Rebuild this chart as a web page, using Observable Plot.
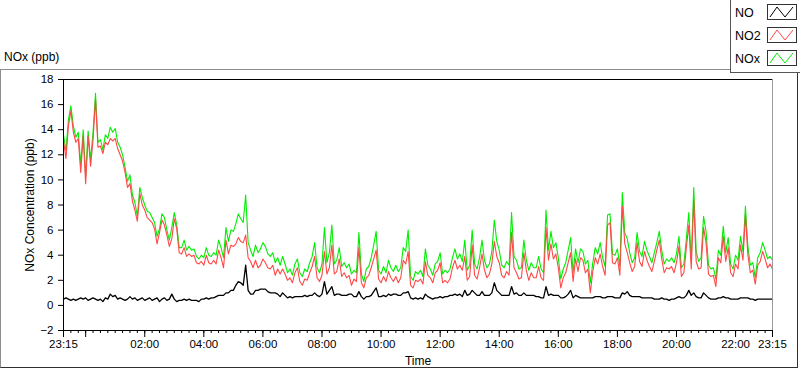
<!DOCTYPE html>
<html><head><meta charset="utf-8">
<script src="https://cdn.jsdelivr.net/npm/d3@7"></script>
<script src="https://cdn.jsdelivr.net/npm/@observablehq/plot@0.6"></script>
<style>
html,body{margin:0;padding:0;background:#fff;}
#wrap{position:relative;width:800px;height:369px;overflow:hidden;font-family:"Liberation Sans",Arial,sans-serif;color:#000;}
#panel{position:absolute;left:0;top:69px;width:796px;height:297px;border-top:1px solid #8c8c8c;border-left:1px solid #8c8c8c;border-right:1px solid #303030;border-bottom:1px solid #303030;}
#title{position:absolute;left:4px;top:50px;font-size:12px;line-height:14px;}
#legend{position:absolute;left:730px;top:0;width:70px;height:73px;background:#fff;border-left:1px solid #555;border-bottom:1px solid #555;box-sizing:border-box;}
.item{position:absolute;left:4px;font-size:12.5px;line-height:14px;}
.sw{position:absolute;left:36px;width:30px;height:16px;box-sizing:border-box;border:1px solid #333;background:#fff;}
#chart{position:absolute;left:0;top:0;}
</style>
</head><body>
<div id="wrap">
  <div id="panel"></div>
  <div id="title">NOx (ppb)</div>
  <div id="chart"></div>
  <div id="legend"></div>
</div>
<script>
// ---- data: readings every 5 minutes from 23:15 to 23:15 next day ----
const stepMinutes = 5;
const seriesNames = ["NO", "NO2", "NOx"];
const seriesColors = ["#000000", "#ff4848", "#00ee00"];
const yTickValues = [-2, 0, 2, 4, 6, 8, 10, 12, 14, 16, 18];

const nox = [
 13.6,12.3,14.8,15.9,14.3,13.4,13.8,11.2,14.0,10.3,13.9,11.6,13.8,16.9,13.0,13.2,12.4,13.6,13.3,14.2,13.8,14.1,13.0,12.6,12.0,11.0,9.9,10.4,8.8,8.2,7.1,9.4,8.6,8.0,7.5,7.4,7.0,6.6,5.5,6.1,7.3,7.0,6.0,5.2,6.2,7.4,6.4,
 4.6,4.6,5.2,4.4,4.7,4.4,4.5,3.9,3.7,4.0,3.8,4.6,4.0,3.9,4.2,4.0,5.2,4.6,3.8,6.2,5.1,6.0,5.9,6.5,7.3,6.9,6.6,8.8,5.0,4.4,3.9,4.8,4.2,4.5,5.0,4.7,4.1,3.9,4.2,3.4,3.8,3.2,3.9,3.3,2.6,2.9,2.4,
 3.3,3.7,2.6,2.3,2.9,2.7,3.4,3.9,5.0,3.0,2.6,3.3,6.2,3.4,4.2,6.4,3.3,3.6,4.6,3.1,3.4,3.0,3.3,2.5,2.8,2.6,5.8,2.5,1.9,2.9,3.1,3.8,4.8,5.9,2.8,2.5,3.1,2.6,3.6,3.0,2.7,3.2,2.7,3.0,4.6,4.3,6.0,2.3,2.0,2.7,
 2.5,2.8,2.3,4.5,3.2,2.9,2.4,3.3,3.5,4.2,2.5,2.8,2.6,2.9,3.8,4.5,3.7,4.1,3.5,5.2,2.8,3.2,6.0,3.3,2.9,3.8,5.2,3.6,3.0,3.3,4.3,6.8,5.1,4.4,3.2,3.0,3.5,3.2,7.4,3.9,3.6,2.9,3.0,5.2,3.6,2.8,3.4,3.0,
 3.0,3.9,2.9,2.6,7.6,4.4,5.9,4.6,5.0,3.8,2.1,2.9,3.4,4.4,5.4,2.6,4.5,3.4,4.5,4.3,3.3,3.6,1.8,3.4,4.6,4.1,5.0,3.8,3.1,7.2,7.3,4.1,4.0,4.5,3.1,9.0,5.8,5.3,4.2,3.4,3.8,5.8,4.3,3.9,5.1,4.4,3.9,3.4,
 4.2,5.0,5.9,4.4,3.3,3.7,3.5,3.8,3.4,4.1,5.5,3.0,3.3,5.3,7.4,3.6,9.4,4.3,3.5,3.8,7.1,5.9,3.2,2.9,3.0,2.1,4.4,4.0,6.3,4.2,5.4,3.3,2.9,4.0,3.6,5.5,4.3,7.9,4.7,3.2,3.4,2.2,3.8,4.2,5.0,4.4,3.7,3.9,3.6
];
const no2 = [
 13.1,11.7,14.3,15.5,13.8,13.0,13.3,10.6,13.5,9.7,13.5,11.1,13.2,16.4,12.6,12.7,12.1,13.0,12.8,13.3,13.1,13.3,12.5,12.0,11.5,10.6,9.4,9.7,8.3,7.6,6.7,8.9,8.0,7.6,7.0,6.8,6.6,6.1,4.9,5.8,6.8,6.4,5.6,4.7,5.3,6.9,6.1,
 4.2,4.1,4.6,3.9,4.1,3.9,4.0,3.4,3.3,3.5,3.2,4.0,3.4,3.3,3.6,3.3,4.4,3.8,3.0,5.2,4.1,4.8,4.7,4.9,5.4,5.1,5.0,5.6,3.8,3.5,3.0,3.6,3.0,3.2,3.7,3.4,3.0,2.9,3.2,2.4,2.9,2.5,2.9,2.5,2.0,2.2,1.8,
 2.6,3.0,1.9,1.6,2.1,2.0,2.6,3.1,3.9,2.2,1.9,2.4,4.3,2.5,3.0,4.8,2.5,2.7,3.7,2.3,2.6,2.2,2.4,1.6,2.1,1.9,4.6,1.8,1.4,2.2,2.4,3.0,3.7,4.4,2.1,1.8,2.3,1.9,2.7,2.2,1.9,2.3,1.8,2.2,3.6,3.3,4.3,1.6,1.4,2.0,
 1.9,2.1,1.7,3.5,2.4,2.2,1.8,2.6,2.8,3.4,1.8,2.0,1.8,2.1,3.0,3.6,2.9,3.2,2.8,3.9,2.0,2.3,4.8,2.4,2.1,3.0,4.1,2.8,2.2,2.5,3.3,5.1,3.9,3.4,2.4,2.2,2.7,2.4,5.8,3.0,2.6,2.1,2.2,4.2,2.8,2.0,2.6,2.2,
 2.2,3.1,2.2,2.0,6.2,3.6,4.9,3.7,4.1,3.0,1.4,2.2,2.6,3.4,4.2,1.9,3.7,2.7,3.8,3.6,2.6,2.9,1.0,2.7,3.8,3.3,4.1,3.1,2.4,6.4,6.6,3.4,3.3,3.8,2.4,7.9,4.9,4.2,3.4,2.7,3.1,5.0,3.5,3.1,4.3,3.6,3.1,2.7,
 3.5,4.4,5.2,3.7,2.6,3.0,2.9,3.1,2.6,3.4,4.7,2.3,2.6,4.6,6.4,2.9,8.4,3.5,2.9,3.0,6.2,5.0,2.5,2.3,2.4,1.5,3.8,3.4,5.5,3.5,4.6,2.6,2.3,3.3,2.9,4.8,3.6,7.2,4.0,2.6,2.8,1.7,3.2,3.5,4.3,3.7,3.0,3.3,2.9
];
const no = [
 0.5,0.6,0.5,0.4,0.5,0.4,0.5,0.6,0.5,0.6,0.4,0.5,0.6,0.5,0.4,0.5,0.3,0.6,0.5,0.9,0.7,0.8,0.5,0.6,0.5,0.4,0.5,0.7,0.5,0.6,0.4,0.5,0.6,0.4,0.5,0.6,0.4,0.5,0.6,0.3,0.5,0.6,0.4,0.5,0.9,0.5,0.3,
 0.4,0.4,0.5,0.4,0.5,0.4,0.4,0.4,0.3,0.5,0.5,0.6,0.5,0.6,0.6,0.7,0.8,0.8,0.8,1.0,1.0,1.2,1.2,1.6,1.9,1.8,1.6,3.2,1.2,0.9,0.9,1.2,1.2,1.3,1.3,1.3,1.1,1.0,1.0,1.0,0.9,0.7,1.0,0.8,0.6,0.7,0.6,
 0.7,0.7,0.7,0.7,0.8,0.7,0.8,0.8,1.0,0.8,0.7,0.9,1.9,0.9,1.2,1.5,0.8,0.9,0.9,0.8,0.8,0.8,0.9,0.9,0.7,0.7,1.1,0.7,0.5,0.7,0.7,0.8,1.1,1.4,0.7,0.7,0.8,0.7,0.9,0.8,0.9,0.9,0.8,0.8,1.0,1.0,1.1,0.6,0.5,0.6,
 0.5,0.6,0.5,0.9,0.7,0.6,0.5,0.6,0.6,0.7,0.6,0.7,0.7,0.8,0.8,0.9,0.8,0.9,0.7,1.2,0.8,0.9,1.2,1.0,0.8,0.8,1.1,0.8,0.8,0.8,1.0,1.8,1.2,1.0,0.8,0.8,0.8,0.8,1.5,0.9,1.0,0.8,0.8,1.0,0.8,0.8,0.8,0.8,
 0.7,0.7,0.6,0.6,1.5,0.8,0.9,0.8,0.8,0.8,0.6,0.6,0.7,0.9,1.2,0.6,0.8,0.7,0.6,0.6,0.6,0.6,0.6,0.6,0.7,0.7,0.7,0.6,0.6,0.7,0.7,0.7,0.6,0.6,0.6,1.0,0.9,1.1,0.8,0.7,0.7,0.7,0.7,0.6,0.6,0.6,0.6,0.6,
 0.5,0.5,0.5,0.6,0.5,0.5,0.4,0.5,0.5,0.6,0.7,0.6,0.6,0.8,1.2,0.8,1.0,0.7,0.6,0.6,1.0,0.8,0.6,0.5,0.5,0.5,0.6,0.6,0.7,0.6,0.6,0.5,0.5,0.5,0.5,0.6,0.6,0.6,0.6,0.5,0.5,0.4,0.5,0.5,0.5,0.5,0.5,0.5,0.5
];

// ---- build ----
const t0 = Date.UTC(2000, 0, 1, 23, 15);
const start = new Date(t0);
const end = new Date(t0 + 1440 * 60000);
const rows = nox.map((v, i) => ({
  time: new Date(t0 + i * stepMinutes * 60000), NOx: v, NO2: no2[i], NO: no[i]
}));
const fmt = d3.utcFormat("%H:%M");
const minorTicks = d3.utcMinute.every(15).range(start, d3.utcMinute.offset(end, 1));
const majorTicks = [start, ...d3.utcHour.every(2).range(d3.utcMinute.offset(start, 1), end), end];
const majorFormat = d => (d.getUTCHours() === 0 && d.getUTCMinutes() === 0) ? "" : fmt(d);

const chart = Plot.plot({
  width: 800, height: 369,
  marginLeft: 63, marginRight: 28, marginTop: 79, marginBottom: 39,
  style: {fontFamily: "'Liberation Sans', Arial, sans-serif", fontSize: "11px", background: "transparent", color: "#000", overflow: "visible"},
  x: {type: "utc", domain: [start, end]},
  y: {domain: [-2, 18]},
  marks: [
    Plot.lineY(rows, {x: "time", y: "NOx", stroke: seriesColors[2], strokeWidth: 1.1}),
    Plot.lineY(rows, {x: "time", y: "NO2", stroke: seriesColors[1], strokeWidth: 1.1}),
    Plot.lineY(rows, {x: "time", y: "NO", stroke: seriesColors[0], strokeWidth: 1.3}),
    Plot.frame({stroke: "#000"}),
    Plot.ruleX([end], {stroke: "#9a9a9a"}),
    Plot.axisY({ticks: yTickValues, tickSize: 5, tickPadding: 5, label: null, fontSize: 11.5}),
    Plot.axisY({ticks: [], label: "NOx Concentration (ppb)", labelAnchor: "center", labelArrow: "none", labelOffset: 38, fontSize: 12}),
    Plot.axisX({ticks: minorTicks, tickSize: 3, tickFormat: () => "", label: null}),
    Plot.axisX({ticks: majorTicks, tickSize: 7, tickPadding: 2, tickFormat: majorFormat, label: null, fontSize: 11.5}),
    Plot.axisX({ticks: [], label: "Time", labelAnchor: "center", labelArrow: "none", labelOffset: 34, fontSize: 12})
  ]
});
document.getElementById("chart").appendChild(chart);

// legend
const legend = document.getElementById("legend");
seriesNames.forEach((name, i) => {
  const top = 4 + i * 23;
  const label = document.createElement("div");
  label.className = "item";
  label.style.top = (top + 2) + "px";
  label.textContent = name;
  legend.appendChild(label);
  const sw = document.createElement("div");
  sw.className = "sw";
  sw.style.top = top + "px";
  sw.innerHTML = `<svg width="28" height="14"><polyline points="2,12 9,2 17,12 25,2" fill="none" stroke="${seriesColors[i]}" stroke-width="1"/></svg>`;
  legend.appendChild(sw);
});
</script>
</body></html>
